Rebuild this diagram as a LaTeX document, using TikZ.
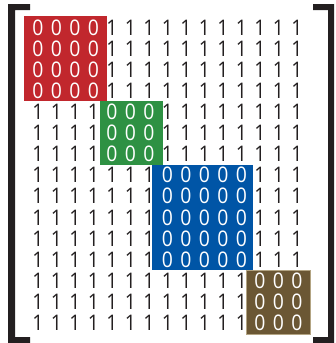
\documentclass[tikz,border=0pt]{standalone}
\usepackage{fontspec}
\setmainfont[FakeStretch=0.9]{Open Sans}
\definecolor{ink}{HTML}{231F20}
\definecolor{redb}{HTML}{C1272D}
\definecolor{greenb}{HTML}{2E9143}
\definecolor{blueb}{HTML}{0055A6}
\definecolor{brownb}{HTML}{6B5734}
\definecolor{brownedge}{HTML}{B3A483}
\begin{document}
\begin{tikzpicture}[x=1pt,y=-1pt,
  digit/.style={font=\fontsize{21.5}{21.5}\selectfont, inner sep=0pt, anchor=center},
  one/.style={digit, text=ink},
  zero/.style={digit, text=white},
  brk/.style={fill=ink}]
\useasboundingbox (0,0) rectangle (335,343);
% blocks
\fill[redb] (24,16) rectangle (107,101);
\fill[greenb] (100,101) rectangle (163,165);
\fill[blueb] (152,165) rectangle (253,270);
\filldraw[fill=brownb, draw=brownedge, line width=0.8pt] (246,270) rectangle (310,334);
% brackets
\fill[brk] (30,4) -- (8,4) -- (8,343) -- (30,343) -- (30,337) -- (15,337) -- (15,10) -- (30,10) -- cycle;
\fill[brk] (313,4) -- (334,4) -- (334,343) -- (313,343) -- (313,337) -- (328,337) -- (328,10) -- (313,10) -- cycle;
% entries
\foreach \i in {1,...,15}{
  \foreach \j in {1,...,15}{
    \pgfmathtruncatemacro\bi{(\i>4)+(\i>7)+(\i>12)}
    \pgfmathtruncatemacro\bj{(\j>4)+(\j>7)+(\j>12)}
    \pgfmathsetmacro\xx{38+(\j-1)*18.5}
    \pgfmathsetmacro\yy{27.5+(\i-1)*21.1}
    \ifnum\bi=\bj
      \node[zero] (n\i-\j) at (\xx,\yy) {0};
    \else
      \node[one] (n\i-\j) at (\xx,\yy) {1};
    \fi
  }
}
\end{tikzpicture}
\end{document}
